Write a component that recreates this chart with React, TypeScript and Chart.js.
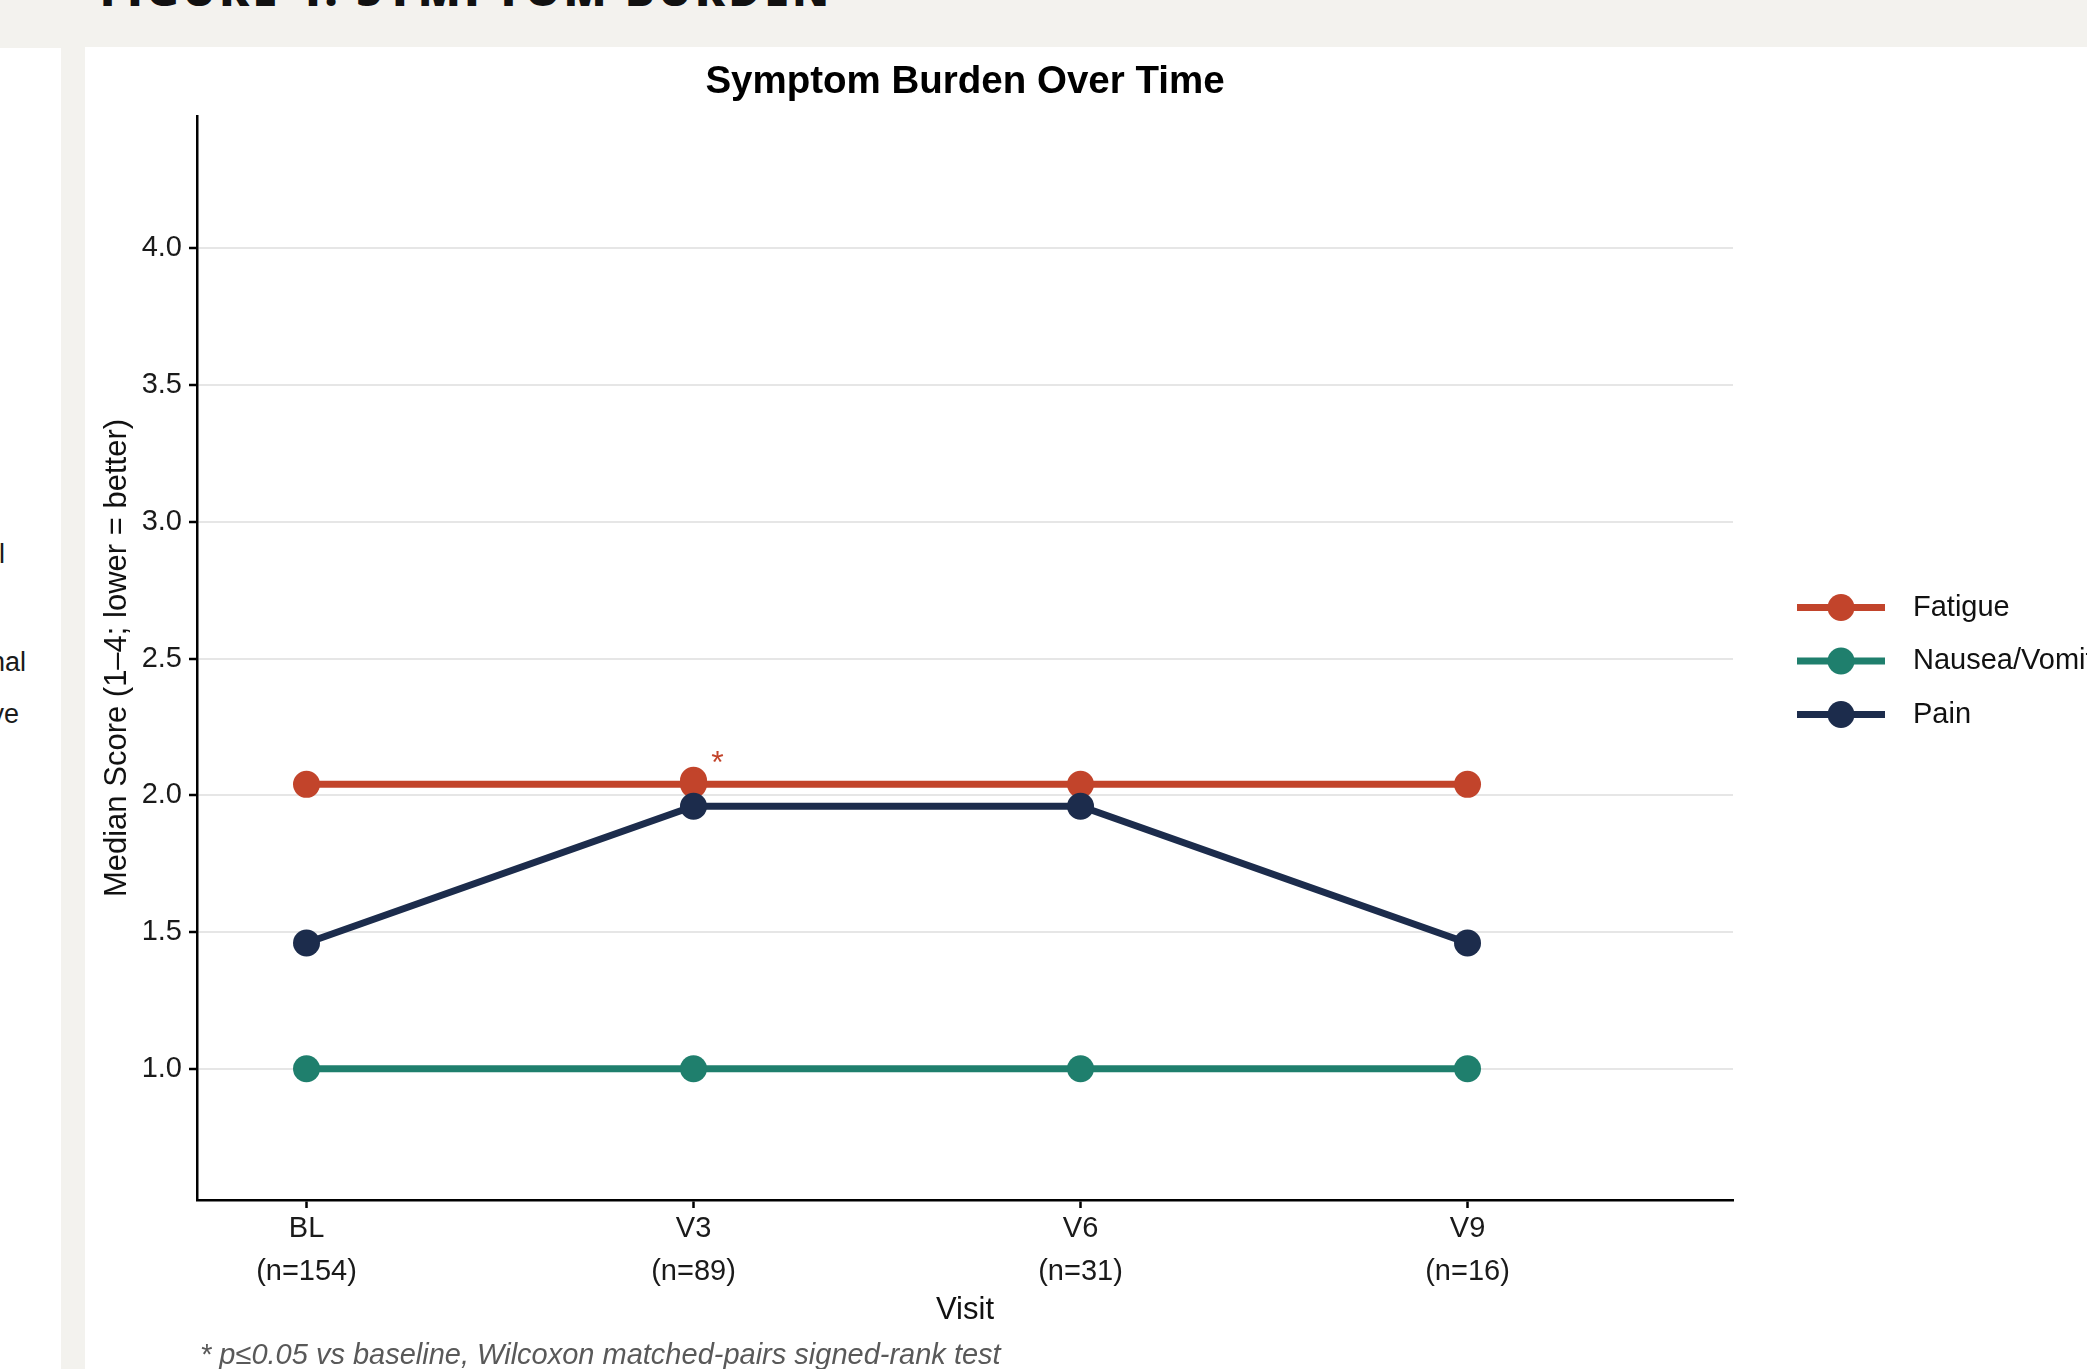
import React, { useEffect, useRef } from "react";
import { Chart, registerables } from "chart.js";

Chart.register(...registerables);

// ---- Data ----
const visits = ["BL", "V3", "V6", "V9"];
const sampleSizes = [154, 89, 31, 16];
const fatigue = [2.04, 2.04, 2.04, 2.04];
const nauseaVomiting = [1.0, 1.0, 1.0, 1.0];
const pain = [1.46, 1.96, 1.96, 1.46];
// Fatigue at V3 is flagged as significant (p<=0.05 vs baseline)
const fatigueSigVisit = [1];
const fatigueSigValue = [2.055];
const yTickValues = [1.0, 1.5, 2.0, 2.5, 3.0, 3.5, 4.0];

const seriesNames = ["Fatigue", "Nausea/Vomiting", "Pain"];
const seriesColors = ["#C2442B", "#1F7F6D", "#1C2C4C"];

const FONT = "'Liberation Sans', Arial, Helvetica, sans-serif";

const toPoints = (vals: number[]) => vals.map((y, i) => ({ x: i, y }));

const seriesStyle = (color: string, order: number) => ({
  borderColor: color,
  backgroundColor: color,
  pointBackgroundColor: color,
  pointBorderColor: color,
  borderWidth: 7,
  pointRadius: 13.5,
  pointHoverRadius: 13.5,
  pointBorderWidth: 0,
  tension: 0,
  order,
});

// Title, axis titles, legend, significance marker and footnote
const figureText = {
  id: "figureText",
  afterDraw(chart: any) {
    const { ctx, chartArea: a, scales } = chart;
    const cx = (a.left + a.right) / 2;
    const cy = (a.top + a.bottom) / 2;
    ctx.save();

    ctx.fillStyle = "#000";
    ctx.textAlign = "center";
    ctx.textBaseline = "middle";
    ctx.font = `bold 38.5px ${FONT}`;
    ctx.fillText("Symptom Burden Over Time", cx, a.top - 34);

    ctx.fillStyle = "#111";
    ctx.font = `31px ${FONT}`;
    ctx.fillText("Visit", cx, a.bottom + 110);

    ctx.save();
    ctx.translate(a.left - 80, cy);
    ctx.rotate(-Math.PI / 2);
    ctx.fillText("Median Score (1\u20134; lower = better)", 0, 0);
    ctx.restore();

    // significance asterisk next to the flagged point
    const sx = scales.x.getPixelForValue(fatigueSigVisit[0]);
    const sy = scales.y.getPixelForValue(fatigue[fatigueSigVisit[0]]);
    ctx.fillStyle = seriesColors[0];
    ctx.font = `32px ${FONT}`;
    ctx.textBaseline = "alphabetic";
    ctx.fillText("*", sx + 24, sy - 11);

    // legend
    const rowGap = 53.5;
    seriesNames.forEach((name, i) => {
      const y = cy + 3 - rowGap + i * rowGap;
      const x0 = a.right + 64;
      ctx.strokeStyle = seriesColors[i];
      ctx.lineWidth = 7;
      ctx.beginPath();
      ctx.moveTo(x0, y);
      ctx.lineTo(x0 + 88, y);
      ctx.stroke();
      ctx.fillStyle = seriesColors[i];
      ctx.beginPath();
      ctx.arc(x0 + 44, y, 13.5, 0, Math.PI * 2);
      ctx.fill();
      ctx.fillStyle = "#111";
      ctx.font = `29px ${FONT}`;
      ctx.textAlign = "left";
      ctx.textBaseline = "middle";
      ctx.fillText(name, x0 + 116, y);
    });

    // footnote
    ctx.fillStyle = "#595959";
    ctx.font = `italic 29px ${FONT}`;
    ctx.textAlign = "left";
    ctx.textBaseline = "middle";
    ctx.fillText(
      "* p\u22640.05 vs baseline, Wilcoxon matched-pairs signed-rank test",
      a.left + 3,
      a.bottom + 156
    );

    ctx.restore();
  },
};

function SymptomChart() {
  const ref = useRef<HTMLCanvasElement>(null);

  useEffect(() => {
    if (!ref.current) return;
    const chart = new Chart(ref.current, {
      type: "line",
      data: {
        datasets: [
          { label: seriesNames[0], data: toPoints(fatigue), ...seriesStyle(seriesColors[0], 3) },
          {
            label: "Fatigue (significant)",
            data: fatigueSigVisit.map((x, i) => ({ x, y: fatigueSigValue[i] })),
            ...seriesStyle(seriesColors[0], 3),
            showLine: false,
          },
          { label: seriesNames[1], data: toPoints(nauseaVomiting), ...seriesStyle(seriesColors[1], 2) },
          { label: seriesNames[2], data: toPoints(pain), ...seriesStyle(seriesColors[2], 1) },
        ],
      },
      options: {
        responsive: false,
        devicePixelRatio: 1,
        animation: false,
        events: [],
        layout: { padding: { top: 69, left: 0, right: 354, bottom: 69 } },
        plugins: {
          legend: { display: false },
          title: { display: false },
          tooltip: { enabled: false },
        },
        scales: {
          x: {
            type: "linear",
            min: -0.283,
            max: 3.686,
            afterBuildTicks: (s: any) => {
              s.ticks = visits.map((_, i) => ({ value: i }));
            },
            afterFit: (s: any) => {
              s.height = 100;
            },
            grid: {
              display: true,
              drawOnChartArea: false,
              drawTicks: true,
              tickLength: 8,
              tickWidth: 2.5,
              tickColor: "#000",
              color: "#000",
            },
            border: { display: true, color: "#000", width: 2.5 },
            ticks: {
              autoSkip: false,
              maxRotation: 0,
              padding: 0,
              color: "#1a1a1a",
              font: { family: FONT, size: 29, lineHeight: 1.466 },
              callback: (v: any) => {
                const i = Math.round(Number(v));
                return [visits[i], `(n=${sampleSizes[i]})`];
              },
            },
          },
          y: {
            type: "linear",
            min: 0.52,
            max: 4.484,
            afterBuildTicks: (s: any) => {
              s.ticks = yTickValues.map((value) => ({ value }));
            },
            afterFit: (s: any) => {
              s.width = 112;
            },
            grid: {
              display: true,
              drawOnChartArea: true,
              drawTicks: true,
              tickLength: 8,
              tickWidth: 2.5,
              tickColor: "#000",
              color: "#E6E6E6",
              lineWidth: 2,
            },
            border: { display: true, color: "#000", width: 2.5 },
            ticks: {
              padding: 7,
              color: "#1a1a1a",
              font: { family: FONT, size: 29 },
              callback: (v: any) => Number(v).toFixed(1),
            },
          },
        },
      } as any,
      plugins: [figureText],
    });
    return () => chart.destroy();
  }, []);

  return (
    <canvas
      ref={ref}
      width={2002}
      height={1322}
      style={{ display: "block", width: 2002, height: 1322 }}
    />
  );
}

const fragmentStyle = (top: number, right: number): React.CSSProperties => ({
  position: "absolute",
  top,
  right,
  font: `27px ${FONT}`,
  lineHeight: "26px",
  color: "#1a1a1a",
  whiteSpace: "nowrap",
});

export default function App() {
  return (
    <div
      style={{
        position: "fixed",
        left: 0,
        top: 0,
        width: 2087,
        height: 1369,
        background: "#F3F2EE",
        overflow: "hidden",
      }}
    >
      <div
        style={{
          position: "absolute",
          left: 100,
          top: -41,
          fontFamily: "'Open Sans', sans-serif",
          fontWeight: 800,
          fontSize: 44,
          letterSpacing: 3.6,
          color: "#111",
          whiteSpace: "nowrap",
        }}
      >
        FIGURE 4: SYMPTOM BURDEN
      </div>
      <div
        style={{
          position: "absolute",
          left: 0,
          top: 48,
          width: 61,
          bottom: 0,
          background: "#fff",
          overflow: "hidden",
        }}
      >
        <div style={fragmentStyle(493, 56)}>l</div>
        <div style={fragmentStyle(601, 35)}>nal</div>
        <div style={fragmentStyle(653, 42)}>ve</div>
      </div>
      <div
        style={{
          position: "absolute",
          left: 85,
          top: 47,
          right: 0,
          bottom: 0,
          background: "#fff",
          overflow: "hidden",
        }}
      >
        <SymptomChart />
      </div>
    </div>
  );
}
